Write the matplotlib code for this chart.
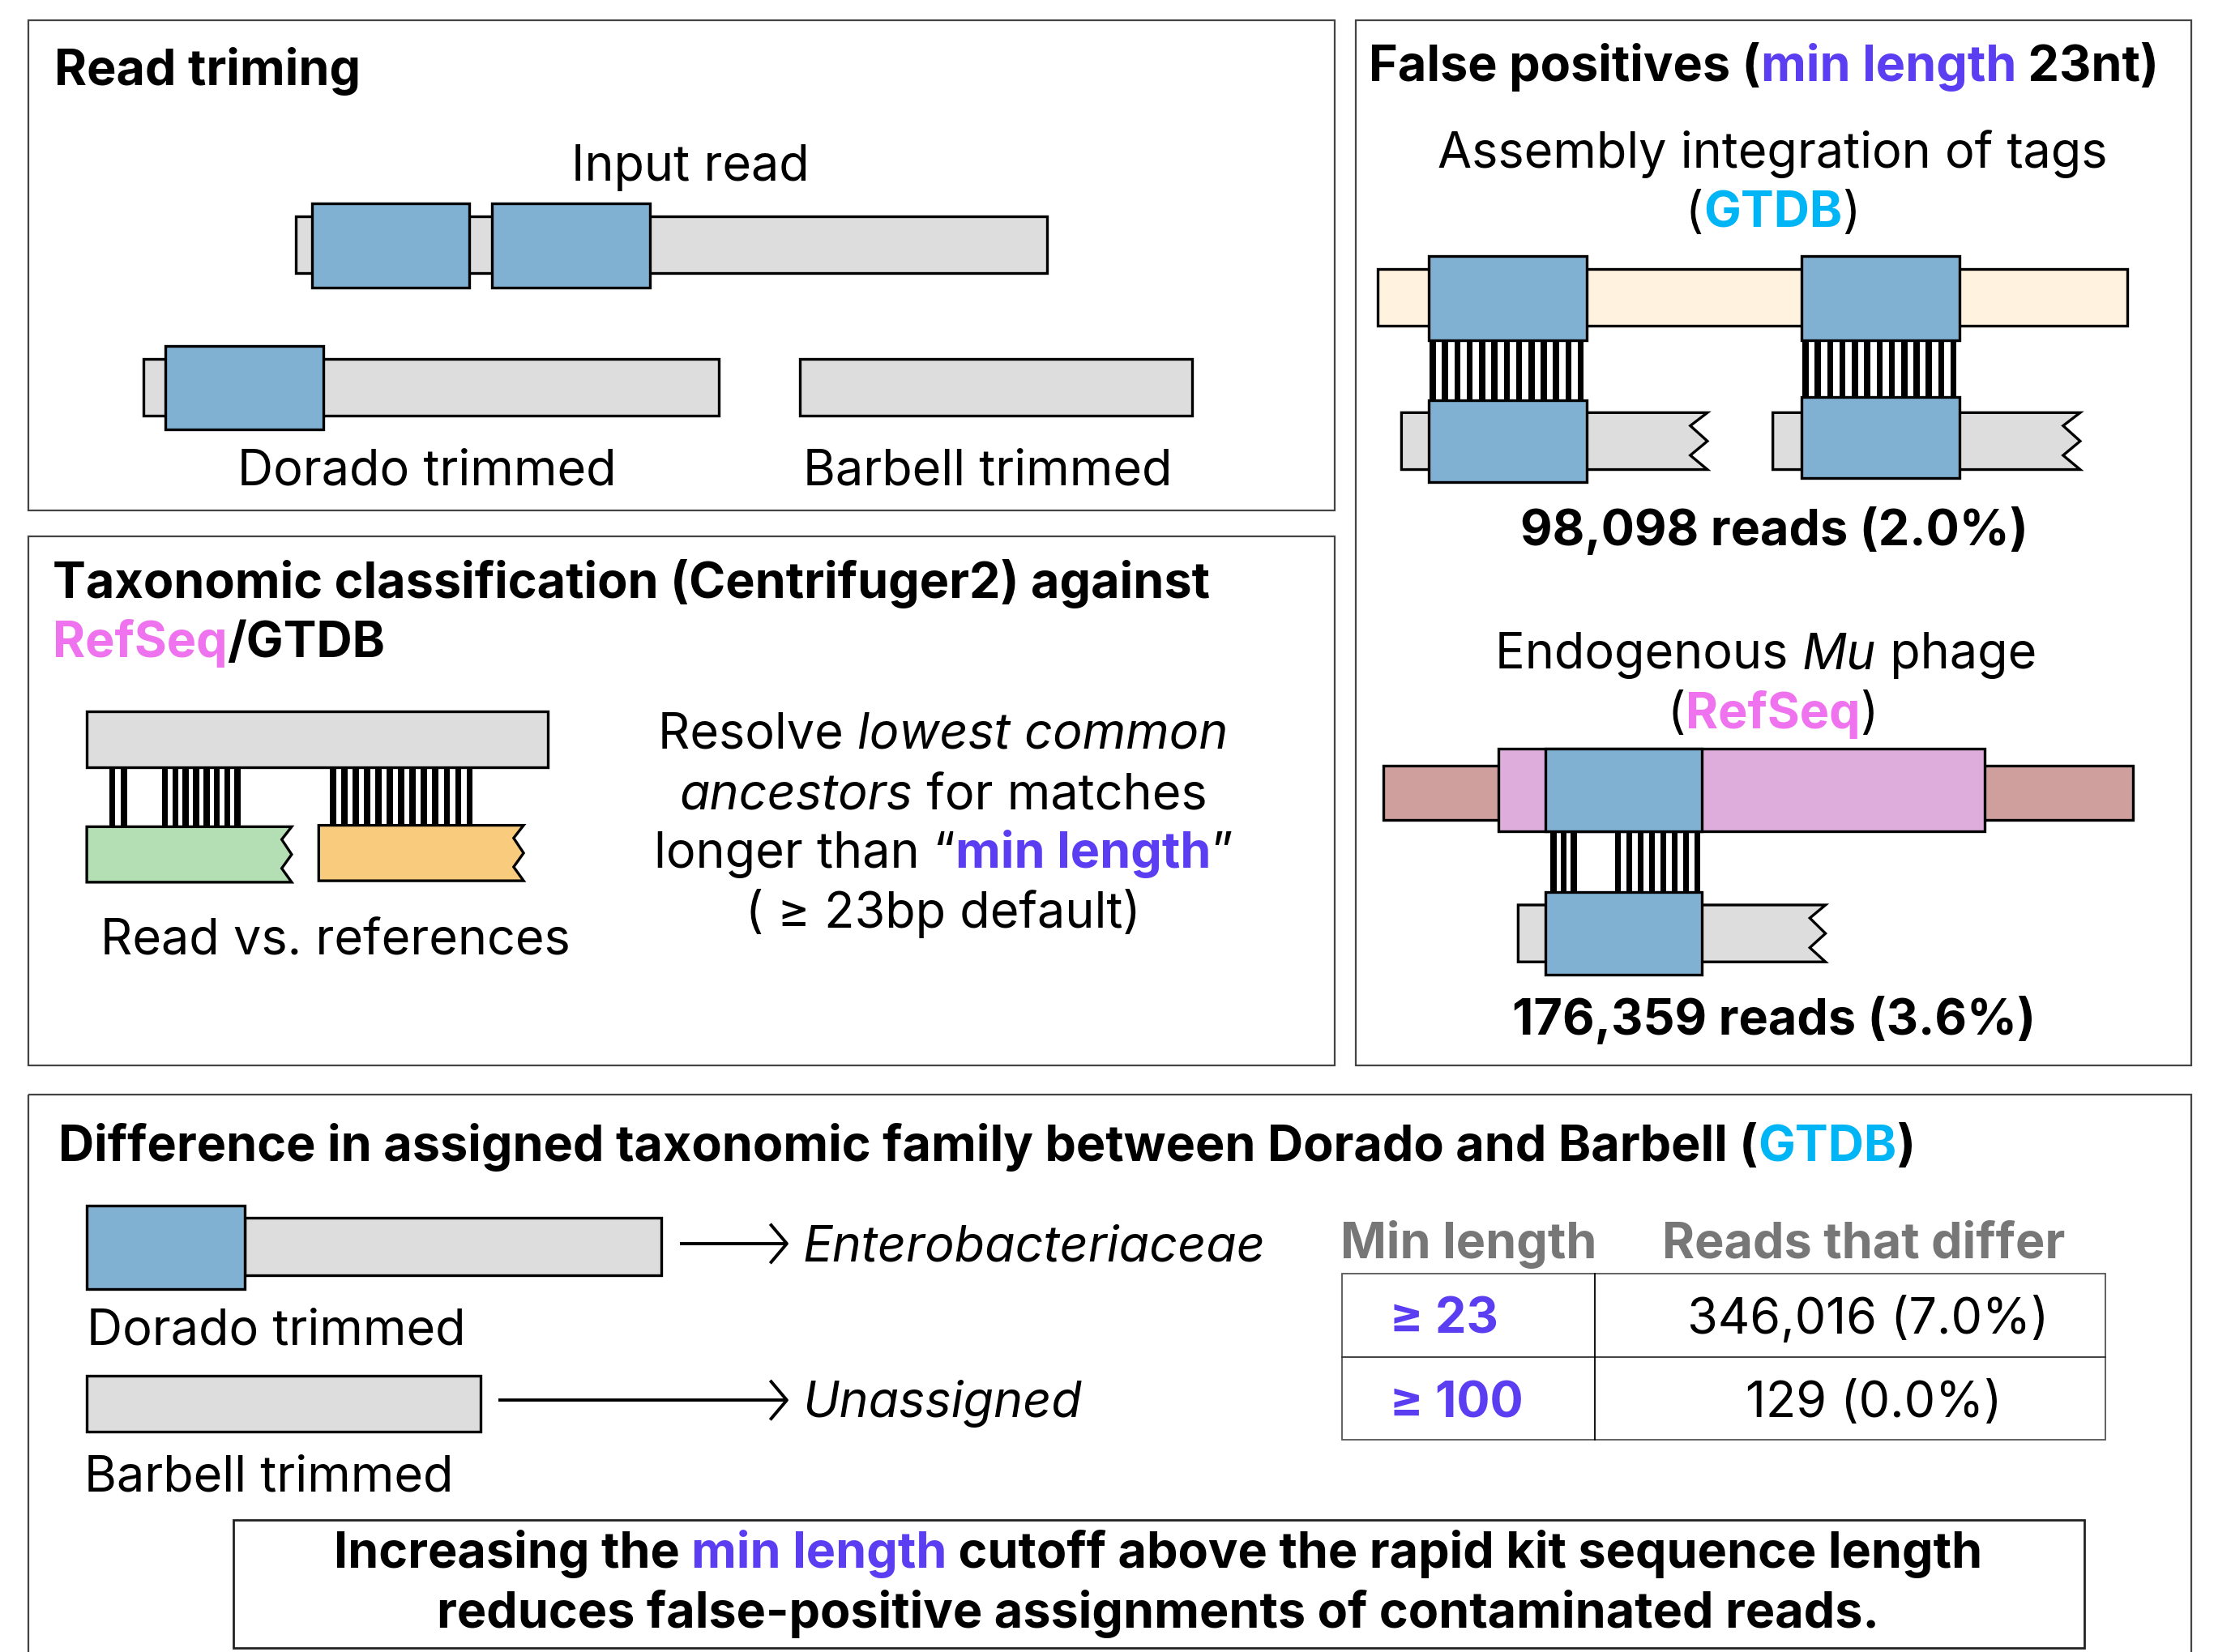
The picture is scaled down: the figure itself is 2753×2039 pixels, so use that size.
import matplotlib
matplotlib.use("Agg")
import matplotlib.pyplot as plt
from matplotlib.patches import Rectangle, Polygon
from matplotlib import font_manager as fm

# ---------------- data ----------------
fp_labels = ["Assembly integration of tags", "Endogenous Mu phage"]
fp_reads = [98098, 176359]
fp_pct = [2.0, 3.6]
min_lengths = [23, 100]
reads_differ = [346016, 129]
reads_differ_pct = [7.0, 0.0]
table_headers = ["Min length", "Reads that differ"]
default_min_len = 23

# ---------------- style ----------------
BLUE = "#80b0d2"
GRAY = "#dddddd"
BEIGE = "#fff2df"
GREEN = "#b4dfb4"
ORANGE = "#f8cb7d"
ROSY = "#cf9f9d"
PINKBAR = "#deaddb"
PURPLE = "#5b3df2"
CYAN = "#00b5f5"
PINKTXT = "#ef72ee"
HDRGRAY = "#777777"
FS = 44

names = {(f.name, f.style) for f in fm.fontManager.ttflist}
FAM = "Inter" if ("Inter", "normal") in names else "DejaVu Sans"
ITFAM = FAM if (FAM, "italic") in names else ("Roboto" if ("Roboto", "italic") in names else "DejaVu Sans")

W, H = 1568, 1161
fig = plt.figure(figsize=(27.53, 20.39), dpi=100)
ax = fig.add_axes([0, 0, 1, 1])
ax.set_xlim(0, W)
ax.set_ylim(H, 0)
ax.axis("off")
renderer = fig.canvas.get_renderer()
px2data = W / (27.53 * 100)


def fontkw(weight, style, size):
    fam = ITFAM if style == "italic" else FAM
    return dict(family=[fam, "DejaVu Sans"], fontweight=weight, fontstyle=style, fontsize=size)


def measure(t, weight, style, size):
    kw = fontkw(weight, style, size)
    a = ax.text(0, 0, t + "|", **kw)
    b = ax.text(0, 0, "|", **kw)
    w = (a.get_window_extent(renderer).width - b.get_window_extent(renderer).width) * px2data
    a.remove(); b.remove()
    return w


def rich(x, y, segs, ha="left", size=FS):
    # segs: (text, color, weight, style)
    segs = [tuple(list(s) + ["normal"] * (4 - len(s))) for s in segs]
    widths = [measure(t, w, s, size) for t, c, w, s in segs]
    total = sum(widths)
    x0 = x - total / 2 if ha == "center" else x
    for (t, c, w, s), wd in zip(segs, widths):
        ax.text(x0, y, t, color=c, ha="left", va="baseline", **fontkw(w, s, size))
        x0 += wd


def rect(x0, y0, x1, y1, fc, lw=2.4, z=2, ec="black"):
    ax.add_patch(Rectangle((x0, y0), x1 - x0, y1 - y0, fc=fc, ec=ec, lw=lw, zorder=z))


def torn(x0, y0, x1, y1, fc, d=12, lw=2.4, z=2):
    h = y1 - y0
    pts = [(x0, y0), (x1, y0), (x1 - d, y0 + 0.23 * h), (x1, y0 + 0.5 * h),
           (x1 - d, y0 + 0.75 * h), (x1, y1), (x0, y1)]
    ax.add_patch(Polygon(pts, closed=True, fc=fc, ec="black", lw=lw, zorder=z, joinstyle="miter"))


def matches(xs, y0, y1, w=4.3):
    for x in xs:
        ax.add_patch(Rectangle((x - w / 2, y0), w, y1 - y0, fc="black", ec="none", zorder=1))


def spaced(a, b, n):
    return [a + (b - a) * i / (n - 1) for i in range(n)]


def arrow(x0, x1, y):
    ax.plot([x0, x1], [y, y], color="black", lw=2.8, solid_capstyle="butt", zorder=3)
    ax.plot([x1 - 11, x1, x1 - 11], [y - 13, y, y + 13], color="black", lw=2.8, zorder=3)


# ---------------- panel frames ----------------
for (x0, y0, x1, y1) in [(20, 14, 938, 359), (20, 377, 938, 749), (953, 14, 1540, 749), (20, 769, 1540, 1175)]:
    ax.add_patch(Rectangle((x0, y0), x1 - x0, y1 - y0, fc="none", ec="#444444", lw=1.6, zorder=0))

# ---------------- panel 1: read trimming ----------------
rich(38, 60, [("Read triming", "black", "bold")])
rich(485, 127, [("Input read", "black")], ha="center")
rect(208, 152, 736, 192, GRAY)
rect(219, 143, 330, 202, BLUE, z=3)
rect(346, 143, 457, 202, BLUE, z=3)
rect(101, 252, 505, 292, GRAY)
rect(116, 243, 227, 302, BLUE, z=3)
rect(562, 252, 838, 292, GRAY)
rich(300, 341, [("Dorado trimmed", "black")], ha="center")
rich(694, 341, [("Barbell trimmed", "black")], ha="center")

# ---------------- panel 2: taxonomic classification ----------------
rich(37, 420, [("Taxonomic classification (Centrifuger2) against", "black", "bold")])
rich(37, 462, [("RefSeq", PINKTXT, "bold"), ("/GTDB", "black", "bold")])
rect(61, 500, 385, 539, GRAY)
matches(spaced(79, 87, 2) + spaced(116, 167, 8) + spaced(234, 330, 13), 539, 581)
torn(61, 581, 205, 620, GREEN, d=7)
torn(224, 580, 368, 619, ORANGE, d=7)
rich(236, 671, [("Read vs. references", "black")], ha="center")
rich(663, 526, [("Resolve ", "black"), ("lowest common", "black", "normal", "italic")], ha="center")
rich(663, 569, [("ancestors", "black", "normal", "italic"), (" for matches", "black")], ha="center")
rich(663, 610, [("longer than \u201c", "black"), ("min length", PURPLE, "bold"), ("\u201d", "black")], ha="center")
rich(663, 652, [(f"( \u2265 {default_min_len}bp default)", "black")], ha="center")

# ---------------- panel 3: false positives ----------------
rich(962, 57, [("False positives (", "black", "bold"), ("min length", PURPLE, "bold"),
               (f" {default_min_len}nt)", "black", "bold")])
rich(1246, 118, [(fp_labels[0], "black")], ha="center")
rich(1246, 160, [("(", "black"), ("GTDB", CYAN, "bold"), (")", "black")], ha="center")
rect(968, 189, 1495, 229, BEIGE)
rect(1004, 180, 1115, 239, BLUE, z=3)
rect(1266, 180, 1377, 239, BLUE, z=3)
matches(spaced(1007, 1111, 13), 239, 281)
matches(spaced(1269, 1373, 13), 239, 281)
torn(985, 290, 1200, 330, GRAY, d=12)
rect(1004, 281, 1115, 339, BLUE, z=3)
torn(1246, 290, 1462, 330, GRAY, d=12)
rect(1266, 279, 1377, 336, BLUE, z=3)
rich(1247, 383, [(f"{fp_reads[0]:,} reads ({fp_pct[0]:.1f}%)", "black", "bold")], ha="center")

rich(1241, 470, [("Endogenous ", "black"), ("Mu", "black", "normal", "italic"), (" phage", "black")], ha="center")
rich(1246, 512, [("(", "black"), ("RefSeq", PINKTXT, "bold"), (")", "black")], ha="center")
rect(972, 538, 1499, 576, ROSY)
rect(1053, 526, 1395, 584, PINKBAR, z=3)
rect(1086, 526, 1196, 584, BLUE, z=4)
matches(spaced(1092, 1106, 3) + spaced(1137, 1193, 8), 584, 627)
torn(1067, 636, 1283, 676, GRAY, d=11)
rect(1086, 627, 1196, 685, BLUE, z=3)
rich(1247, 727, [(f"{fp_reads[1]:,} reads ({fp_pct[1]:.1f}%)", "black", "bold")], ha="center")

# ---------------- panel 4: differences ----------------
rich(41, 816, [("Difference in assigned taxonomic family between Dorado and Barbell (", "black", "bold"),
               ("GTDB", CYAN, "bold"), (")", "black", "bold")])
rect(172, 856, 465, 896, GRAY)
rect(61, 847, 172, 906, BLUE, z=3)
arrow(478, 553, 874)
rich(564, 886, [("Enterobacteriaceae", "black", "normal", "italic")])
rich(61, 945, [("Dorado trimmed", "black")])
rect(61, 967, 338, 1006, GRAY)
arrow(350, 553, 984)
rich(564, 996, [("Unassigned", "black", "normal", "italic")])
rich(59, 1048, [("Barbell trimmed", "black")])

# table
rich(1032, 884, [(table_headers[0], HDRGRAY, "bold")], ha="center")
rich(1310, 884, [(table_headers[1], HDRGRAY, "bold")], ha="center")
tx0, tx1, tx2 = 943, 1121, 1480
ty = [895, 954, 1012]
ax.add_patch(Rectangle((tx0, ty[0]), tx2 - tx0, ty[2] - ty[0], fc="none", ec="#555555", lw=1.3, zorder=2))
ax.plot([tx0, tx2], [ty[1], ty[1]], color="#333333", lw=1.3, zorder=2)
ax.plot([tx1, tx1], [ty[0], ty[2]], color="black", lw=1.3, zorder=2)
row_base = [937, 996]
val_cx = [1313, 1317]
for ml, rd, pc, yb, cx in zip(min_lengths, reads_differ, reads_differ_pct, row_base, val_cx):
    rich(977, yb, [(f"\u2265 {ml}", PURPLE, "bold")])
    rich(cx, yb, [(f"{rd:,} ({pc:.1f}%)", "black")], ha="center")

# conclusion box
ax.add_patch(Rectangle((164, 1068), 1465 - 164, 1158 - 1068, fc="white", ec="#222222", lw=2.0, zorder=2))
rich(814, 1102, [("Increasing the ", "black", "bold"), ("min length", PURPLE, "bold"),
                 (" cutoff above the rapid kit sequence length", "black", "bold")], ha="center")
rich(814, 1144, [("reduces false-positive assignments of contaminated reads.", "black", "bold")], ha="center")

fig.savefig("out.png", dpi=100, facecolor="white")
